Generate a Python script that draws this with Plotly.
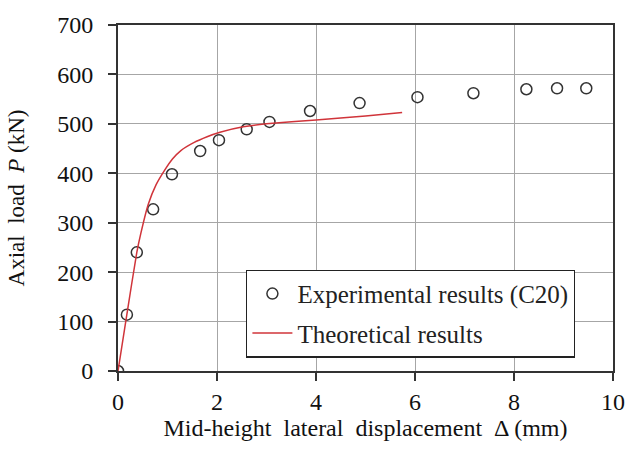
import plotly.graph_objects as go

# Experimental load-displacement points (specimen C20)
exp_disp = [0.0, 0.18, 0.38, 0.71, 1.09, 1.66, 2.04, 2.60, 3.06, 3.88, 4.88, 6.05, 7.18, 8.25, 8.87, 9.46]
exp_load = [0, 114, 240, 327, 398, 445, 467, 489, 504, 526, 542, 554, 562, 570, 572, 572]

# Theoretical load-displacement curve
theo_disp = [0.0, 0.18, 0.38, 0.46, 0.61, 0.77, 0.94, 1.10, 1.27, 1.53, 1.80, 2.06, 2.53, 3.0, 4.0, 5.0, 5.74]
theo_load = [0, 115, 240, 278, 337, 377, 406, 429, 446, 462, 474, 483, 494, 500, 508, 516, 523]

x_ticks = [0, 2, 4, 6, 8, 10]
y_ticks = [0, 100, 200, 300, 400, 500, 600, 700]

serif = "Liberation Serif, Times New Roman, serif"

fig = go.Figure()
fig.add_trace(go.Scatter(
    x=exp_disp, y=exp_load, mode="markers",
    name="Experimental results (C20)",
    legendgroup="exp",
    marker=dict(symbol="circle-open", size=11, color="#333333", line=dict(width=1.5)),
))
fig.add_trace(go.Scatter(
    x=theo_disp, y=theo_load, mode="lines",
    name="Theoretical results",
    legendgroup="theo",
    line=dict(color="#d0343a", width=1.5, shape="spline", smoothing=0.5),
))

axis_common = dict(
    showgrid=True, gridcolor="#a6a6a6", gridwidth=1,
    zeroline=False, showline=True, linecolor="#333333", linewidth=2,
    mirror=True, ticks="outside", ticklen=8, tickcolor="#333333", tickwidth=1.5,
    tickfont=dict(family=serif, size=24, color="#111111"),
)

fig.update_xaxes(
    range=[0, 10], tickvals=x_ticks,
    title=dict(text="Mid-height  lateral  displacement  Δ (mm)",
               font=dict(family=serif, size=24, color="#111111"), standoff=0),
    **axis_common,
)
fig.update_yaxes(
    range=[0, 700], tickvals=y_ticks, ticklabelstandoff=10,
    title=dict(text="Axial  load  <i>P</i> (kN)",
               font=dict(family=serif, size=23, color="#111111"), standoff=26),
    **axis_common,
)

fig.update_layout(
    width=637, height=449,
    margin=dict(l=118, r=15, t=16, b=78),
    plot_bgcolor="white", paper_bgcolor="white",
    legend=dict(
        x=0.259, y=0.293, xanchor="left", yanchor="top",
        bgcolor="white", bordercolor="#222222", borderwidth=1.2,
        font=dict(family=serif, size=25, color="#222222"),
        traceorder="grouped", tracegroupgap=4,
        itemwidth=40,
    ),
)

fig.write_html("out.html")
